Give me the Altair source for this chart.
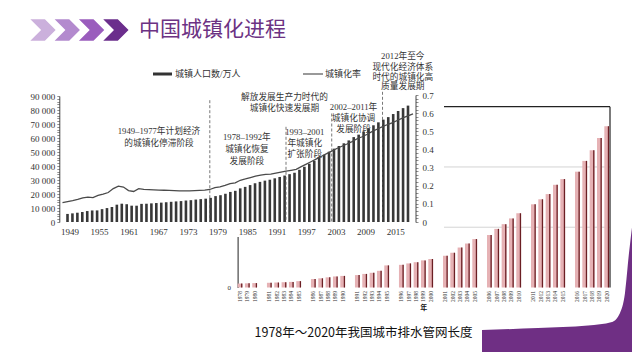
import altair as alt
import pandas as pd

# ---------------- chart 1 data: urban population & urbanization rate ----------------
years1 = list(range(1949, 2019))
urban_pop = [5765, 6169, 6632, 7163, 7826, 8249, 8285, 9185, 9949, 10721,
             12371, 13073, 12707, 11659, 11646, 12950, 13045, 13313, 13548, 13838,
             14117, 14424, 14711, 14935, 15345, 15595, 16030, 16341, 16669, 17245,
             18495, 19140, 20171, 21480, 22274, 24017, 25094, 26366, 27674, 28661,
             29540, 30195, 31203, 32175, 33173, 34169, 35174, 37304, 39449, 41608,
             43748, 45906, 48064, 50212, 52376, 54283, 56212, 58288, 60633, 62403,
             64512, 66978, 69079, 71182, 73111, 74916, 77116, 79298, 81347, 83137]
urban_rate = [0.1064, 0.1118, 0.1178, 0.1246, 0.1331, 0.1369, 0.1348, 0.1462, 0.1539, 0.1625,
              0.1841, 0.1975, 0.1929, 0.1733, 0.1684, 0.1837, 0.1798, 0.1786, 0.1774, 0.1762,
              0.1750, 0.1738, 0.1726, 0.1713, 0.1720, 0.1716, 0.1734, 0.1744, 0.1755, 0.1792,
              0.1896, 0.1939, 0.2016, 0.2113, 0.2162, 0.2301, 0.2371, 0.2452, 0.2532, 0.2581,
              0.2621, 0.2641, 0.2694, 0.2746, 0.2799, 0.2851, 0.2904, 0.3048, 0.3191, 0.3335,
              0.3478, 0.3622, 0.3766, 0.3909, 0.4053, 0.4176, 0.4299, 0.4434, 0.4589, 0.4699,
              0.4834, 0.4995, 0.5127, 0.5257, 0.5373, 0.5477, 0.5610, 0.5735, 0.5852, 0.5958]

phase_years = [1978, 1993, 2002, 2012]
phase_tops = [87000, 68000, 77500, 93000]

ann_text = ["1949–1977年计划经济", "的城镇化停滞阶段",
            "1978–1992年", "城镇化恢复", "发展阶段",
            "解放发展生产力时代的", "城镇化快速发展期",
            "1993–2001", "年城镇化", "扩张阶段",
            "2002–2011年", "城镇化协调", "发展阶段",
            "2012年至今", "现代化经济体系", "时代的城镇化高", "质量发展期"]
ann_year = [1968.0, 1968.0,
            1985.3, 1985.3, 1985.3,
            1992.7, 1992.7,
            1996.7, 1996.7, 1996.7,
            2006.3, 2006.3, 2006.3,
            2016.0, 2016.0, 2016.0, 2016.0]
ann_level = [65000, 56400,
             60700, 52100, 43600,
             89300, 81400,
             64300, 56400, 48600,
             82100, 74300, 66400,
             118600, 110700, 103600, 96800]

# ---------------- chart 2 data: drainage pipe length ----------------
years2 = list(range(1978, 2021))
pipe_len = [1.96, 2.08, 2.19, 2.35, 2.48, 2.63, 2.80, 3.16, 4.20, 4.57,
            5.05, 5.50, 5.77, 6.18, 6.76, 7.32, 8.30, 11.00, 11.28, 11.99,
            12.59, 13.50, 14.20, 15.80, 17.30, 19.90, 21.89, 24.10, 26.14, 29.19,
            31.53, 34.39, 36.99, 41.41, 43.91, 46.49, 51.12, 53.96, 57.66, 63.02,
            68.35, 74.39, 80.27]
group_ends = [1980, 1985, 1990, 1995, 2000, 2005, 2010, 2015]
grid2 = [30, 60]

title_text = "中国城镇化进程"
caption_text = "1978年～2020年我国城市排水管网长度"
legend_labels = ["城镇人口数/万人", "城镇化率"]

SERIF = "Liberation Serif, 'Noto Sans CJK SC'"
CJK = "Noto Sans CJK SC"

# ---------------- scales ----------------
def sx1():
    return alt.Scale(domain=[1949, 2018], range=[54.5, 405], nice=False, zero=False)

def sy_pop():
    return alt.Scale(domain=[0, 90000], range=[214, 88], nice=False, zero=False)

def sy_rate():
    return alt.Scale(domain=[0, 0.7], range=[214, 87], nice=False, zero=False)

slots = []
for y in years2:
    slots.append(str(y))
    if y in group_ends:
        slots.append(" " * (group_ends.index(y) + 1))

def sx2():
    return alt.Scale(domain=slots, range=[229.6, 601.1], paddingInner=0.35, paddingOuter=0)

def sy2():
    return alt.Scale(domain=[0, 90], range=[279.5, 98.7], nice=False, zero=False)

def px_x():
    return alt.Scale(domain=[0, 624], range=[0, 624], nice=False, zero=False)

def px_y():
    return alt.Scale(domain=[0, 344], range=[0, 344], nice=False, zero=False)

df1 = pd.DataFrame({"year": years1, "pop": urban_pop, "rate": urban_rate})
df2 = pd.DataFrame({"yr": [str(y) for y in years2], "len": pipe_len})
one = pd.DataFrame({"a": [0]})

# ---------------- slide swoosh (background decoration) ----------------
swoosh_df = pd.DataFrame({
    "px": [474, 530, 580, 604, 612, 617, 621, 626, 632],
    "py": [322, 320, 317.5, 314, 305, 285, 245, 205, 177],
})
swoosh_df["pb"] = 352
swoosh = alt.Chart(swoosh_df).mark_area(color="#6f2f84", interpolate="monotone", opacity=1).encode(
    x=alt.X("px:Q", scale=px_x(), axis=None),
    y=alt.Y("py:Q", scale=px_y(), axis=None, stack=False),
    y2="pb:Q")

# ---------------- chart 2 (behind) ----------------
grid_layer = alt.Chart(pd.DataFrame({"v": grid2})).mark_rule(color="#d4d4d4", strokeWidth=1).encode(
    y=alt.Y("v:Q", scale=sy2(), axis=None), x=alt.value(229.6), x2=alt.value(602))
frame_df = pd.DataFrame({"v": [90], "z": [0]})
frame_top = alt.Chart(frame_df).mark_rule(color="#222", strokeWidth=1.2).encode(
    y=alt.Y("v:Q", scale=sy2(), axis=None), x=alt.value(229.6), x2=alt.value(602))
frame_right = alt.Chart(frame_df).mark_rule(color="#222", strokeWidth=1.2).encode(
    y=alt.Y("v:Q", scale=sy2(), axis=None), y2="z:Q", x=alt.value(602))

bars2 = alt.Chart(df2).mark_bar(color="#e6b2b5").encode(
    x=alt.X("yr:O", scale=sx2(),
            axis=alt.Axis(orient="bottom", offset=-64.5, labelAngle=-90, labelFont="Liberation Serif",
                          labelFontSize=5.5, labelColor="#333", ticks=False, domain=False, labelPadding=3,
                          labelOverlap=False, grid=False, title="年", titleFont=CJK, titleFontSize=7,
                          titleFontWeight="bold", titlePadding=2, titleColor="#111", zindex=0)),
    y=alt.Y("len:Q", scale=sy2(),
            axis=alt.Axis(orient="left", offset=-229.6, values=[0], ticks=False,
                          labelFont="Liberation Serif", labelFontSize=7, labelColor="#333", labelPadding=7,
                          domainColor="#222", domainWidth=1, grid=False, title="", zindex=0)))
edge2 = alt.Chart(df2).mark_bar(color="#6b1f24", width=1.3, xOffset=1.75).encode(
    x=alt.X("yr:O", scale=sx2(), axis=None),
    y=alt.Y("len:Q", scale=sy2(), axis=None))

# ---------------- white panel of chart 1 ----------------
panel = alt.Chart(one).mark_rect(color="white").encode(
    x=alt.value(0), x2=alt.value(436), y=alt.value(52), y2=alt.value(229))

# ---------------- chart 1 ----------------
left_expr = "datum.value % 10000 == 0 ? replace(format(datum.value, ','), ',', ' ') : ''"
right_expr = "(round(datum.value * 100) % 10 == 0) ? format(datum.value, '.1~f') : ''"

bars1 = alt.Chart(df1).mark_bar(width=2.6, color="#383838").encode(
    x=alt.X("year:Q", scale=sx1(),
            axis=alt.Axis(orient="bottom", offset=-130, values=list(range(1949, 2019, 6)), format="d",
                          labelFont="Liberation Serif", labelFontSize=9, labelColor="#333", domain=False,
                          ticks=False, labelPadding=5, labelOffset=2, labelFlush=False, labelOverlap=False,
                          grid=False, title="", zindex=1)),
    y=alt.Y("pop:Q", scale=sy_pop(),
            axis=alt.Axis(orient="left", offset=-51.3, values=list(range(0, 90001, 2000)),
                          labelExpr=left_expr, labelFont="Liberation Serif", labelFontSize=9,
                          labelColor="#333", tickSize=2.5, tickWidth=0.6, tickColor="#444",
                          domainColor="#333", domainWidth=0.9, labelPadding=2, labelOverlap=False,
                          grid=False, title="", zindex=1)))

line1 = alt.Chart(df1).mark_line(color="#4a4a4a", strokeWidth=1.3).encode(
    x=alt.X("year:Q", scale=sx1(), axis=None),
    y=alt.Y("rate:Q", scale=sy_rate(),
            axis=alt.Axis(orient="right", offset=-216.5, values=[round(i * 0.02, 2) for i in range(36)],
                          labelExpr=right_expr, labelFont="Liberation Serif", labelFontSize=9,
                          labelColor="#333", tickSize=2.5, tickWidth=0.6, tickColor="#444",
                          domainColor="#333", domainWidth=0.9, labelPadding=4, labelOverlap=False,
                          grid=False, title="", zindex=1)))

phase_df = pd.DataFrame({"year": phase_years, "top": phase_tops, "base": [0] * len(phase_years)})
phases = alt.Chart(phase_df).mark_rule(color="#555", strokeWidth=0.8, strokeDash=[3, 2]).encode(
    x=alt.X("year:Q", scale=sx1(), axis=None),
    y=alt.Y("top:Q", scale=sy_pop(), axis=None),
    y2="base:Q")

ann_df = pd.DataFrame({"t": ann_text, "year": ann_year, "lvl": ann_level})
anns = alt.Chart(ann_df).mark_text(font=SERIF, fontSize=8.7, color="#333", align="center", baseline="middle").encode(
    x=alt.X("year:Q", scale=sx1(), axis=None),
    y=alt.Y("lvl:Q", scale=sy_pop(), axis=None),
    text="t:N")

leg_line1 = alt.Chart(one).mark_rule(color="#333", strokeWidth=3).encode(
    x=alt.value(145), x2=alt.value(164), y=alt.value(66))
leg_text1 = alt.Chart(one).mark_text(font=SERIF, fontSize=9, color="#333", align="left", baseline="middle").encode(
    x=alt.value(167), y=alt.value(66), text=alt.value(legend_labels[0]))
leg_line2 = alt.Chart(one).mark_rule(color="#555", strokeWidth=1.2).encode(
    x=alt.value(295), x2=alt.value(315), y=alt.value(66))
leg_text2 = alt.Chart(one).mark_text(font=SERIF, fontSize=9, color="#333", align="left", baseline="middle").encode(
    x=alt.value(317), y=alt.value(66), text=alt.value(legend_labels[1]))

# ---------------- slide title ----------------
chev_path = "M-1,-0.85L0.15,-0.85L1,0L0.15,0.85L-1,0.85L-0.15,0Z"
chevrons = alt.Chart(pd.DataFrame({"k": [0, 1, 2, 3]})).transform_calculate(
    px="35 + 24.3 * datum.k").mark_point(shape=chev_path, filled=True, size=640, opacity=1, strokeWidth=0).encode(
    x=alt.X("px:Q", scale=None),
    y=alt.value(22),
    color=alt.Color("k:N", scale=alt.Scale(domain=[0, 1, 2, 3],
                                           range=["#cbb0dc", "#b38ace", "#9a5dbd", "#6b2e8c"]), legend=None))
title = alt.Chart(one).mark_text(font=CJK, fontSize=21, color="#6c3283", align="left", baseline="middle").encode(
    x=alt.value(131), y=alt.value(22), text=alt.value(title_text))
caption = alt.Chart(one).mark_text(font=CJK, fontSize=12.5, color="#111", align="center", baseline="middle").encode(
    x=alt.value(355.5), y=alt.value(325), text=alt.value(caption_text))

chart = alt.layer(
    swoosh, grid_layer, frame_top, frame_right, bars2, edge2,
    panel, bars1, line1, phases, anns,
    leg_line1, leg_text1, leg_line2, leg_text2,
    chevrons, title, caption,
).resolve_scale(x="independent", y="independent", color="independent").resolve_axis(
    x="independent", y="independent").properties(
    width=624, height=344, padding=0, autosize=alt.AutoSizeParams(type="none")
).configure_view(strokeWidth=0)

chart.save("out.html", embed_options={"renderer": "svg", "actions": False})
